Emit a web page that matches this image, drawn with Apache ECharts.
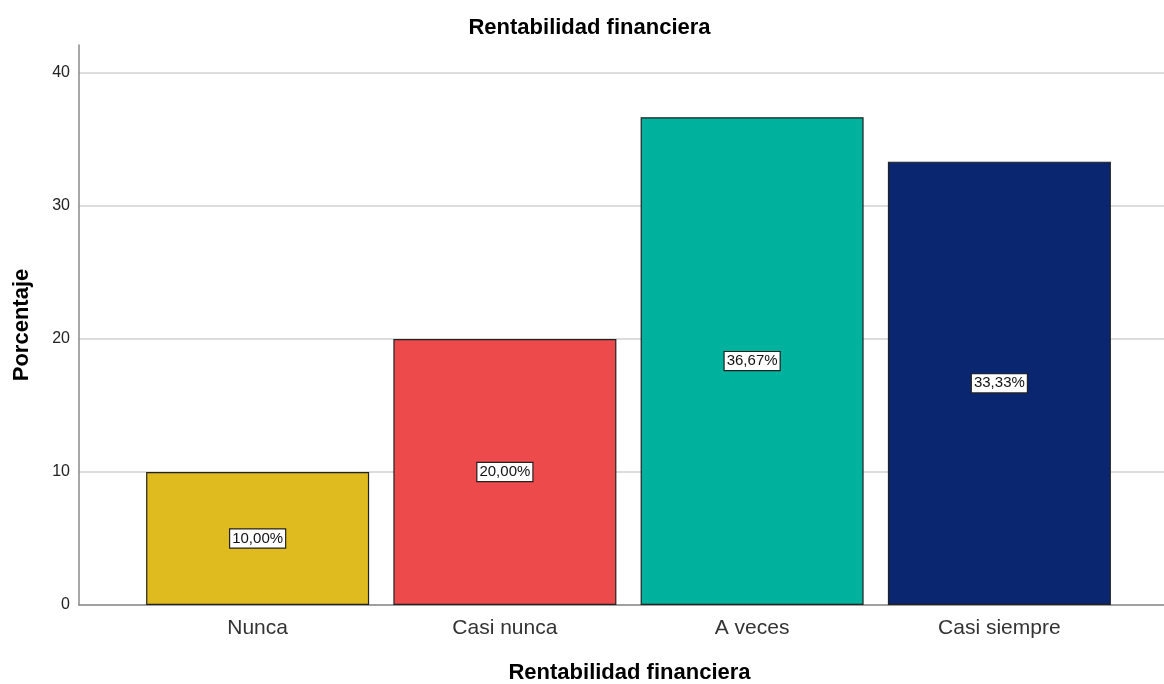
<!DOCTYPE html>
<html><head><meta charset="utf-8">
<script src="https://cdn.jsdelivr.net/npm/echarts@6/dist/echarts.min.js"></script>
<style>html,body{margin:0;padding:0;background:#fff}#c{width:1164px;height:684px}</style>
</head><body><div id="c"></div>
<script>
const categories = ['Nunca', 'Casi nunca', 'A veces', 'Casi siempre'];
const values = [10.00, 20.00, 36.67, 33.33];
const colors = ['#E0BB1F', '#EC4A4B', '#00B29D', '#0B2670'];
const yTicks = [0, 10, 20, 30, 40];
const chartTitle = 'Rentabilidad financiera';
const xTitle = 'Rentabilidad financiera';
const yTitle = 'Porcentaje';

const FONT = 'Arial, "Liberation Sans", sans-serif';
const chart = echarts.init(document.getElementById('c'));
const gridTop = 45, gridBottom = 79;
const yMax = 42.1;
const gl = 'rgba(0,0,0,0)';
chart.setOption({
  animation: false,
  title: [
    {text: chartTitle, left: 589.5, top: 17, textAlign: 'center', padding: 0,
     textStyle: {fontFamily: FONT, fontSize: 22, fontWeight: 'bold', color: '#000', lineHeight: 22}},
    {text: xTitle, left: 629.5, top: 662, textAlign: 'center', padding: 0,
     textStyle: {fontFamily: FONT, fontSize: 22, fontWeight: 'bold', color: '#000', lineHeight: 22}}
  ],
  grid: [
    {left: 79, right: 0, top: gridTop, bottom: gridBottom, containLabel: false, outerBoundsMode: 'none'},
    {left: 134, right: 41, top: gridTop, bottom: gridBottom, containLabel: false, outerBoundsMode: 'none'}
  ],
  xAxis: [
    {gridIndex: 0, type: 'value', min: 0, max: 1,
     axisLine: {show: true, lineStyle: {color: '#8a8a8a', width: 1.5}},
     axisTick: {show: false}, axisLabel: {show: false}, splitLine: {show: false}},
    {gridIndex: 1, type: 'category', data: categories,
     axisLine: {show: false}, axisTick: {show: false},
     axisLabel: {fontFamily: FONT, fontSize: 21, color: '#333', margin: 13}}
  ],
  yAxis: [
    {gridIndex: 0, type: 'value', min: 0, max: yMax, interval: 10,
     axisLine: {show: true, lineStyle: {color: '#8a8a8a', width: 1.5}},
     axisTick: {show: false},
     axisLabel: {fontFamily: FONT, fontSize: 16, color: '#222', margin: 9,
       formatter: v => (yTicks.indexOf(Math.round(v*100)/100) >= 0 ? String(v) : '')},
     splitLine: {show: true, lineStyle: {color: ['#d2d2d2','#d2d2d2','#d2d2d2','#d2d2d2','#d2d2d2', gl], width: 1.5}},
     name: yTitle, nameLocation: 'middle', nameGap: 46, nameRotate: 90,
     nameTextStyle: {fontFamily: FONT, fontSize: 22, fontWeight: 'bold', color: '#000'}},
    {gridIndex: 1, type: 'value', min: 0, max: yMax, show: false, splitLine: {show: false}}
  ],
  series: [{
    type: 'bar', xAxisIndex: 1, yAxisIndex: 1, barWidth: 223,
    data: values.map((v, i) => ({value: v, itemStyle: {color: colors[i]}})),
    itemStyle: {borderColor: '#222', borderWidth: 1.2},
    label: {
      show: true, position: 'inside',
      formatter: p => p.value.toFixed(2).replace('.', ',') + '%',
      fontFamily: FONT, fontSize: 15, lineHeight: 15, color: '#111',
      backgroundColor: '#fff', borderColor: '#222', borderWidth: 1.2,
      padding: [2, 2, 1, 2]
    }
  }]
});
</script></body></html>
